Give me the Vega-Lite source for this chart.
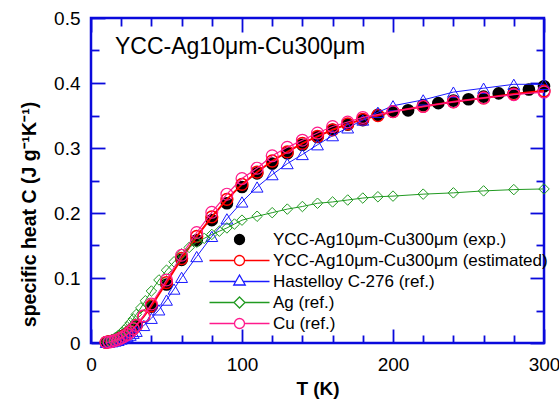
{
  "$schema": "https://vega.github.io/schema/vega-lite/v6.json",
  "width": 453,
  "height": 325,
  "autosize": {"type": "none"},
  "padding": {"left": 91, "top": 18, "right": 15, "bottom": 56},
  "background": "white",
  "config": {
    "font": "Liberation Sans",
    "view": {"stroke": "#0a0adc", "strokeWidth": 2.5},
    "axis": {"grid": false, "domain": false, "ticks": true, "tickColor": "#0a0adc", "tickWidth": 1.8, "labelFont": "Liberation Sans", "titleFont": "Liberation Sans", "labelColor": "black", "titleColor": "black", "zindex": 1}
  },
  "title": {"text": "YCC-Ag10μm-Cu300μm", "anchor": "start", "frame": "group", "fontSize": 23, "fontWeight": "normal", "font": "Liberation Sans", "color": "black", "offset": 0, "baseline": "alphabetic", "dx": 24, "dy": 68},
  "data": {"values": [
    {"s": "exp", "T": 10, "C": 0.001}, {"s": "exp", "T": 12, "C": 0.002}, {"s": "exp", "T": 14, "C": 0.003}, {"s": "exp", "T": 16, "C": 0.005}, {"s": "exp", "T": 18, "C": 0.007}, {"s": "exp", "T": 20, "C": 0.009}, {"s": "exp", "T": 22, "C": 0.012}, {"s": "exp", "T": 24, "C": 0.015}, {"s": "exp", "T": 26, "C": 0.019}, {"s": "exp", "T": 28, "C": 0.023}, {"s": "exp", "T": 30, "C": 0.027}, {"s": "exp", "T": 40, "C": 0.056}, {"s": "exp", "T": 50, "C": 0.090}, {"s": "exp", "T": 60, "C": 0.128}, {"s": "exp", "T": 70, "C": 0.158}, {"s": "exp", "T": 80, "C": 0.189}, {"s": "exp", "T": 90, "C": 0.215}, {"s": "exp", "T": 100, "C": 0.240}, {"s": "exp", "T": 110, "C": 0.261}, {"s": "exp", "T": 120, "C": 0.276}, {"s": "exp", "T": 130, "C": 0.292}, {"s": "exp", "T": 140, "C": 0.305}, {"s": "exp", "T": 150, "C": 0.317}, {"s": "exp", "T": 160, "C": 0.328}, {"s": "exp", "T": 170, "C": 0.336}, {"s": "exp", "T": 180, "C": 0.343}, {"s": "exp", "T": 190, "C": 0.351}, {"s": "exp", "T": 200, "C": 0.356}, {"s": "exp", "T": 210, "C": 0.358}, {"s": "exp", "T": 220, "C": 0.366}, {"s": "exp", "T": 230, "C": 0.369}, {"s": "exp", "T": 240, "C": 0.373}, {"s": "exp", "T": 250, "C": 0.375}, {"s": "exp", "T": 260, "C": 0.379}, {"s": "exp", "T": 270, "C": 0.384}, {"s": "exp", "T": 280, "C": 0.385}, {"s": "exp", "T": 290, "C": 0.390}, {"s": "exp", "T": 300, "C": 0.395},
    {"s": "est", "T": 10, "C": 0.001}, {"s": "est", "T": 12, "C": 0.002}, {"s": "est", "T": 14, "C": 0.003}, {"s": "est", "T": 16, "C": 0.004}, {"s": "est", "T": 18, "C": 0.006}, {"s": "est", "T": 20, "C": 0.008}, {"s": "est", "T": 22, "C": 0.011}, {"s": "est", "T": 24, "C": 0.014}, {"s": "est", "T": 26, "C": 0.018}, {"s": "est", "T": 28, "C": 0.022}, {"s": "est", "T": 30, "C": 0.027}, {"s": "est", "T": 35, "C": 0.041}, {"s": "est", "T": 40, "C": 0.057}, {"s": "est", "T": 50, "C": 0.093}, {"s": "est", "T": 60, "C": 0.130}, {"s": "est", "T": 70, "C": 0.164}, {"s": "est", "T": 80, "C": 0.194}, {"s": "est", "T": 90, "C": 0.221}, {"s": "est", "T": 100, "C": 0.244}, {"s": "est", "T": 110, "C": 0.263}, {"s": "est", "T": 120, "C": 0.280}, {"s": "est", "T": 130, "C": 0.294}, {"s": "est", "T": 140, "C": 0.307}, {"s": "est", "T": 150, "C": 0.318}, {"s": "est", "T": 160, "C": 0.328}, {"s": "est", "T": 170, "C": 0.337}, {"s": "est", "T": 180, "C": 0.344}, {"s": "est", "T": 190, "C": 0.350}, {"s": "est", "T": 200, "C": 0.356}, {"s": "est", "T": 220, "C": 0.364}, {"s": "est", "T": 240, "C": 0.371}, {"s": "est", "T": 260, "C": 0.377}, {"s": "est", "T": 280, "C": 0.383}, {"s": "est", "T": 300, "C": 0.388},
    {"s": "has", "T": 10, "C": 0.001}, {"s": "has", "T": 12, "C": 0.0015}, {"s": "has", "T": 14, "C": 0.002}, {"s": "has", "T": 16, "C": 0.003}, {"s": "has", "T": 18, "C": 0.004}, {"s": "has", "T": 20, "C": 0.006}, {"s": "has", "T": 22, "C": 0.008}, {"s": "has", "T": 24, "C": 0.010}, {"s": "has", "T": 26, "C": 0.012}, {"s": "has", "T": 28, "C": 0.015}, {"s": "has", "T": 30, "C": 0.018}, {"s": "has", "T": 35, "C": 0.027}, {"s": "has", "T": 40, "C": 0.038}, {"s": "has", "T": 45, "C": 0.051}, {"s": "has", "T": 50, "C": 0.066}, {"s": "has", "T": 55, "C": 0.083}, {"s": "has", "T": 60, "C": 0.101}, {"s": "has", "T": 70, "C": 0.133}, {"s": "has", "T": 80, "C": 0.164}, {"s": "has", "T": 90, "C": 0.191}, {"s": "has", "T": 100, "C": 0.217}, {"s": "has", "T": 110, "C": 0.240}, {"s": "has", "T": 120, "C": 0.259}, {"s": "has", "T": 130, "C": 0.276}, {"s": "has", "T": 140, "C": 0.290}, {"s": "has", "T": 150, "C": 0.305}, {"s": "has", "T": 160, "C": 0.319}, {"s": "has", "T": 170, "C": 0.331}, {"s": "has", "T": 180, "C": 0.343}, {"s": "has", "T": 190, "C": 0.355}, {"s": "has", "T": 200, "C": 0.365}, {"s": "has", "T": 220, "C": 0.374}, {"s": "has", "T": 240, "C": 0.386}, {"s": "has", "T": 260, "C": 0.392}, {"s": "has", "T": 280, "C": 0.398}, {"s": "has", "T": 300, "C": 0.398},
    {"s": "ag", "T": 10, "C": 0.002}, {"s": "ag", "T": 12, "C": 0.0035}, {"s": "ag", "T": 14, "C": 0.0055}, {"s": "ag", "T": 16, "C": 0.008}, {"s": "ag", "T": 18, "C": 0.0115}, {"s": "ag", "T": 20, "C": 0.0155}, {"s": "ag", "T": 22, "C": 0.020}, {"s": "ag", "T": 24, "C": 0.025}, {"s": "ag", "T": 26, "C": 0.031}, {"s": "ag", "T": 28, "C": 0.037}, {"s": "ag", "T": 30, "C": 0.044}, {"s": "ag", "T": 33, "C": 0.054}, {"s": "ag", "T": 36, "C": 0.065}, {"s": "ag", "T": 40, "C": 0.080}, {"s": "ag", "T": 45, "C": 0.097}, {"s": "ag", "T": 50, "C": 0.112}, {"s": "ag", "T": 55, "C": 0.125}, {"s": "ag", "T": 60, "C": 0.137}, {"s": "ag", "T": 65, "C": 0.147}, {"s": "ag", "T": 70, "C": 0.155}, {"s": "ag", "T": 75, "C": 0.161}, {"s": "ag", "T": 80, "C": 0.167}, {"s": "ag", "T": 85, "C": 0.172}, {"s": "ag", "T": 90, "C": 0.177}, {"s": "ag", "T": 95, "C": 0.183}, {"s": "ag", "T": 100, "C": 0.189}, {"s": "ag", "T": 110, "C": 0.195}, {"s": "ag", "T": 120, "C": 0.2005}, {"s": "ag", "T": 130, "C": 0.206}, {"s": "ag", "T": 140, "C": 0.210}, {"s": "ag", "T": 150, "C": 0.215}, {"s": "ag", "T": 160, "C": 0.217}, {"s": "ag", "T": 170, "C": 0.220}, {"s": "ag", "T": 180, "C": 0.223}, {"s": "ag", "T": 190, "C": 0.225}, {"s": "ag", "T": 200, "C": 0.226}, {"s": "ag", "T": 220, "C": 0.229}, {"s": "ag", "T": 240, "C": 0.231}, {"s": "ag", "T": 260, "C": 0.234}, {"s": "ag", "T": 280, "C": 0.236}, {"s": "ag", "T": 300, "C": 0.237},
    {"s": "cu", "T": 10, "C": 0.001}, {"s": "cu", "T": 12, "C": 0.0015}, {"s": "cu", "T": 14, "C": 0.0025}, {"s": "cu", "T": 16, "C": 0.004}, {"s": "cu", "T": 18, "C": 0.0055}, {"s": "cu", "T": 20, "C": 0.0077}, {"s": "cu", "T": 22, "C": 0.010}, {"s": "cu", "T": 24, "C": 0.013}, {"s": "cu", "T": 26, "C": 0.017}, {"s": "cu", "T": 28, "C": 0.022}, {"s": "cu", "T": 30, "C": 0.027}, {"s": "cu", "T": 35, "C": 0.042}, {"s": "cu", "T": 40, "C": 0.060}, {"s": "cu", "T": 50, "C": 0.097}, {"s": "cu", "T": 60, "C": 0.135}, {"s": "cu", "T": 70, "C": 0.170}, {"s": "cu", "T": 80, "C": 0.201}, {"s": "cu", "T": 90, "C": 0.229}, {"s": "cu", "T": 100, "C": 0.253}, {"s": "cu", "T": 110, "C": 0.269}, {"s": "cu", "T": 120, "C": 0.288}, {"s": "cu", "T": 130, "C": 0.301}, {"s": "cu", "T": 140, "C": 0.312}, {"s": "cu", "T": 150, "C": 0.323}, {"s": "cu", "T": 160, "C": 0.333}, {"s": "cu", "T": 170, "C": 0.340}, {"s": "cu", "T": 180, "C": 0.347}, {"s": "cu", "T": 200, "C": 0.356}, {"s": "cu", "T": 220, "C": 0.364}, {"s": "cu", "T": 240, "C": 0.371}, {"s": "cu", "T": 260, "C": 0.377}, {"s": "cu", "T": 280, "C": 0.382}, {"s": "cu", "T": 300, "C": 0.386}
  ]},
  "resolve": {"axis": {"x": "independent", "y": "independent"}},
  "layer": [
    {
      "transform": [{"filter": "datum.s === 'exp'"}],
      "mark": {"type": "point", "shape": "circle", "filled": true, "color": "black", "size": 160, "opacity": 1},
      "encoding": {
        "x": {"field": "T", "type": "quantitative", "scale": {"domain": [0, 300], "nice": false},
          "axis": {"orient": "bottom", "values": [0, 100, 200, 300], "offset": -14, "tickSize": 14, "labelFontSize": 19, "labelPadding": 12, "labelFlush": false, "labelOverlap": false, "title": "T (K)", "titleFontSize": 19, "titleFontWeight": "bold", "titlePadding": 5}},
        "y": {"field": "C", "type": "quantitative", "scale": {"domain": [0, 0.5], "nice": false},
          "axis": {"orient": "left", "values": [0, 0.1, 0.2, 0.3, 0.4, 0.5], "offset": -14, "tickSize": 14, "labelFontSize": 19, "labelPadding": 11, "labelExpr": "datum.value == 0 ? '0' : format(datum.value, '.1f')", "title": "specific heat  C  (J g⁻¹K⁻¹)", "titleFontSize": 19.5, "titleFontWeight": "bold", "titlePadding": 14, "titleY": 196}}
      }
    },
    {
      "transform": [{"filter": "datum.s === 'est'"}],
      "mark": {"type": "line", "color": "#ff0000", "strokeWidth": 2},
      "encoding": {
        "x": {"field": "T", "type": "quantitative", "scale": {"domain": [0, 300], "nice": false},
          "axis": {"orient": "bottom", "values": [20, 40, 60, 80, 120, 140, 160, 180, 220, 240, 260, 280], "offset": -8, "tickSize": 8, "labels": false, "title": null}},
        "y": {"field": "C", "type": "quantitative", "scale": {"domain": [0, 0.5], "nice": false},
          "axis": {"orient": "left", "values": [0.05, 0.15, 0.25, 0.35, 0.45], "offset": -8, "tickSize": 8, "labels": false, "title": null}}
      }
    },
    {
      "transform": [{"filter": "datum.s === 'est'"}],
      "mark": {"type": "point", "shape": "circle", "filled": false, "color": "#ff0000", "strokeWidth": 1.5, "size": 140, "opacity": 1},
      "encoding": {
        "x": {"field": "T", "type": "quantitative", "scale": {"domain": [0, 300], "nice": false},
          "axis": {"orient": "top", "values": [0, 100, 200, 300], "offset": -14, "tickSize": 14, "labels": false, "title": null}},
        "y": {"field": "C", "type": "quantitative", "scale": {"domain": [0, 0.5], "nice": false},
          "axis": {"orient": "right", "values": [0, 0.1, 0.2, 0.3, 0.4, 0.5], "offset": -14, "tickSize": 14, "labels": false, "title": null}}
      }
    },
    {
      "transform": [{"filter": "datum.s === 'has'"}],
      "mark": {"type": "line", "color": "#1a1aff", "strokeWidth": 1},
      "encoding": {
        "x": {"field": "T", "type": "quantitative", "scale": {"domain": [0, 300], "nice": false},
          "axis": {"orient": "top", "values": [20, 40, 60, 80, 120, 140, 160, 180, 220, 240, 260, 280], "offset": -8, "tickSize": 8, "labels": false, "title": null}},
        "y": {"field": "C", "type": "quantitative", "scale": {"domain": [0, 0.5], "nice": false},
          "axis": {"orient": "right", "values": [0.05, 0.15, 0.25, 0.35, 0.45], "offset": -8, "tickSize": 8, "labels": false, "title": null}}
      }
    },
    {
      "transform": [{"filter": "datum.s === 'has'"}],
      "mark": {"type": "point", "shape": "triangle-up", "filled": false, "color": "#1a1aff", "strokeWidth": 1, "size": 140, "opacity": 1},
      "encoding": {
        "x": {"field": "T", "type": "quantitative", "scale": {"domain": [0, 300], "nice": false}, "axis": null},
        "y": {"field": "C", "type": "quantitative", "scale": {"domain": [0, 0.5], "nice": false}, "axis": null}
      }
    },
    {
      "transform": [{"filter": "datum.s === 'ag'"}],
      "mark": {"type": "line", "color": "#219a21", "strokeWidth": 1},
      "encoding": {
        "x": {"field": "T", "type": "quantitative", "scale": {"domain": [0, 300], "nice": false}, "axis": null},
        "y": {"field": "C", "type": "quantitative", "scale": {"domain": [0, 0.5], "nice": false}, "axis": null}
      }
    },
    {
      "transform": [{"filter": "datum.s === 'ag'"}],
      "mark": {"type": "point", "shape": "diamond", "filled": false, "color": "#219a21", "strokeWidth": 1, "size": 110, "opacity": 1},
      "encoding": {
        "x": {"field": "T", "type": "quantitative", "scale": {"domain": [0, 300], "nice": false}, "axis": null},
        "y": {"field": "C", "type": "quantitative", "scale": {"domain": [0, 0.5], "nice": false}, "axis": null}
      }
    },
    {
      "transform": [{"filter": "datum.s === 'cu'"}],
      "mark": {"type": "line", "color": "#ff1a8c", "strokeWidth": 1.2},
      "encoding": {
        "x": {"field": "T", "type": "quantitative", "scale": {"domain": [0, 300], "nice": false}, "axis": null},
        "y": {"field": "C", "type": "quantitative", "scale": {"domain": [0, 0.5], "nice": false}, "axis": null}
      }
    },
    {
      "transform": [{"filter": "datum.s === 'cu'"}],
      "mark": {"type": "point", "shape": "circle", "filled": false, "color": "#ff1a8c", "strokeWidth": 1.2, "size": 140, "opacity": 1},
      "encoding": {
        "x": {"field": "T", "type": "quantitative", "scale": {"domain": [0, 300], "nice": false}, "axis": null},
        "y": {"field": "C", "type": "quantitative", "scale": {"domain": [0, 0.5], "nice": false}, "axis": null}
      }
    },
    {
      "transform": [{"filter": "datum.T < 0"}],
      "mark": {"type": "point", "strokeWidth": 1.3, "opacity": 1},
      "encoding": {
        "shape": {"field": "s", "type": "nominal",
          "scale": {"domain": ["exp", "est", "has", "ag", "cu"], "range": ["M1,0A1,1,0,1,1,-1,0A1,1,0,1,1,1,0Z", "M-6,0L-1,0M1,0L6,0M1,0A1,1,0,1,1,-1,0A1,1,0,1,1,1,0Z", "M-6,0L-0.75,0M0.75,0L6,0M0,-1.3L1.15,0.7L-1.15,0.7Z", "M-6,0L-1.1,0M1.1,0L6,0M0,-1.1L1.1,0L0,1.1L-1.1,0Z", "M-6,0L-1,0M1,0L6,0M1,0A1,1,0,1,1,-1,0A1,1,0,1,1,1,0Z"]},
          "legend": {"orient": "none", "legendX": 140, "legendY": 213, "title": null, "padding": 0, "labelFontSize": 17, "labelFont": "Liberation Sans", "labelOffset": 25, "rowPadding": 3, "symbolSize": 100, "symbolStrokeWidth": 1.3, "labelLimit": 400, "labelExpr": "{'exp': 'YCC-Ag10μm-Cu300μm (exp.)', 'est': 'YCC-Ag10μm-Cu300μm (estimated)', 'has': 'Hastelloy C-276 (ref.)', 'ag': 'Ag (ref.)', 'cu': 'Cu (ref.)'}[datum.value]", "encode": {"labels": {"update": {"fill": {"signal": "datum.value === 'exp' ? 'black' : datum.value === 'est' ? '#ff0000' : datum.value === 'has' ? '#1a1aff' : datum.value === 'ag' ? '#219a21' : '#ff1a8c'"}}}}}},
        "stroke": {"field": "s", "type": "nominal",
          "scale": {"domain": ["exp", "est", "has", "ag", "cu"], "range": ["black", "#ff0000", "#1a1aff", "#219a21", "#ff1a8c"]},
          "legend": {"orient": "none", "legendX": 140, "legendY": 213, "title": null, "padding": 0, "labelFontSize": 17, "labelFont": "Liberation Sans", "labelOffset": 25, "rowPadding": 3, "symbolSize": 100, "symbolStrokeWidth": 1.3, "labelLimit": 400, "labelExpr": "{'exp': 'YCC-Ag10μm-Cu300μm (exp.)', 'est': 'YCC-Ag10μm-Cu300μm (estimated)', 'has': 'Hastelloy C-276 (ref.)', 'ag': 'Ag (ref.)', 'cu': 'Cu (ref.)'}[datum.value]", "encode": {"labels": {"update": {"fill": {"signal": "datum.value === 'exp' ? 'black' : datum.value === 'est' ? '#ff0000' : datum.value === 'has' ? '#1a1aff' : datum.value === 'ag' ? '#219a21' : '#ff1a8c'"}}}}}},
        "fill": {"field": "s", "type": "nominal",
          "scale": {"domain": ["exp", "est", "has", "ag", "cu"], "range": ["black", "white", "white", "white", "white"]},
          "legend": {"orient": "none", "legendX": 140, "legendY": 213, "title": null, "padding": 0, "labelFontSize": 17, "labelFont": "Liberation Sans", "labelOffset": 25, "rowPadding": 3, "symbolSize": 100, "symbolStrokeWidth": 1.3, "labelLimit": 400, "labelExpr": "{'exp': 'YCC-Ag10μm-Cu300μm (exp.)', 'est': 'YCC-Ag10μm-Cu300μm (estimated)', 'has': 'Hastelloy C-276 (ref.)', 'ag': 'Ag (ref.)', 'cu': 'Cu (ref.)'}[datum.value]", "encode": {"labels": {"update": {"fill": {"signal": "datum.value === 'exp' ? 'black' : datum.value === 'est' ? '#ff0000' : datum.value === 'has' ? '#1a1aff' : datum.value === 'ag' ? '#219a21' : '#ff1a8c'"}}}}}}
      }
    }
  ]
}
